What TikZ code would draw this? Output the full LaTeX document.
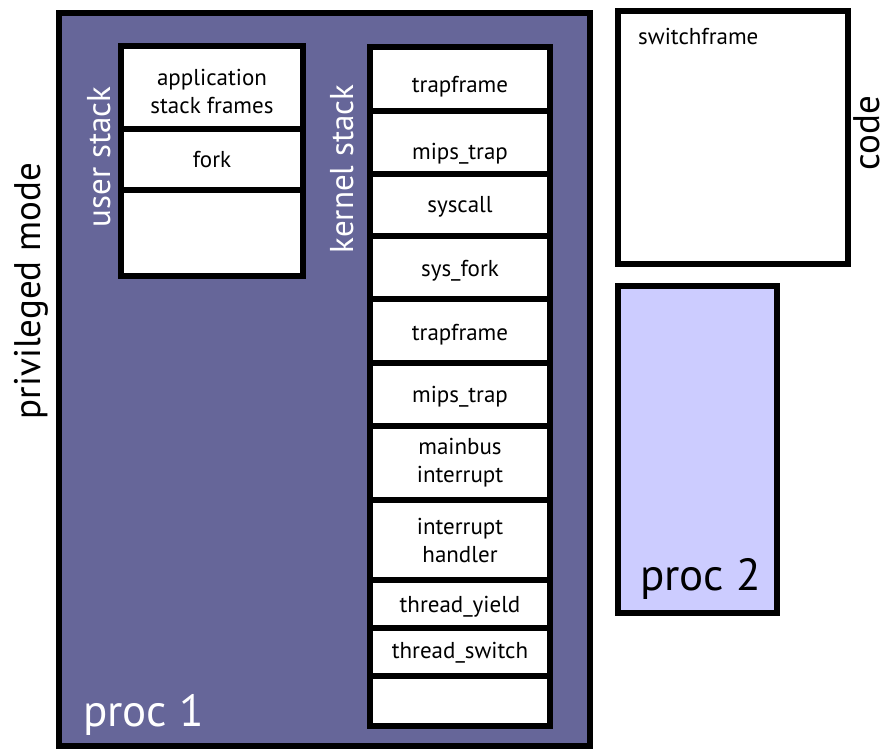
\documentclass[tikz,border=0pt]{standalone}
\usepackage{fontspec}
\setmainfont{PT Sans}
\definecolor{procone}{RGB}{102,102,153}
\definecolor{proctwo}{RGB}{204,204,255}
\tikzstyle{frame} = [draw=black, line width=6pt, rectangle, inner sep=0pt]
\tikzstyle{cell} = [frame, fill=white]
\tikzstyle{celltext} = [font=\fontsize{23}{28}\selectfont, align=center, inner sep=0pt]
\tikzstyle{sidetext} = [font=\fontsize{37}{40}\selectfont, rotate=90, inner sep=0pt, anchor=base]
\tikzstyle{stacktext} = [font=\fontsize{33}{36}\selectfont, rotate=90, text=white, inner sep=0pt, anchor=base]
\tikzstyle{proctext} = [font=\fontsize{45}{48}\selectfont, inner sep=0pt, anchor=base west]

\begin{document}
\begin{tikzpicture}[x=1pt, y=-1pt]
                \useasboundingbox (0,0) rectangle (885,751);
                % processes and code
                \node [frame, fill=procone, minimum width=531pt, minimum height=733pt] (proc1) at (324.5,379.5) {};
                \node [frame, fill=white, minimum width=230pt, minimum height=253pt] (code) at (733,137.5) {};
                \node [frame, fill=proctwo, minimum width=159pt, minimum height=327pt] (proc2) at (697.5,449.5) {};
                % user stack
                \foreach \n/\ya/\yb/\yt/\txt in {1/46/129.5/91.7/{application\\stack frames}, 2/129.5/190/160/fork, 3/190/276/233/{}} {
                    \node [cell, minimum width=182pt, minimum height={(\yb-\ya)*1pt}] (u\n) at (212,{(\ya+\yb)/2}) {};
                    \node [celltext] (ut\n) at (212,\yt) {\txt};
                }
                % kernel stack
                \foreach \n/\ya/\yb/\yt/\txt in {1/47/111/87/trapframe, 2/111/174.5/154/mips\_trap,
                        3/174.5/236/207/syscall, 4/236/299/271/sys\_fork, 5/299/363/335/trapframe,
                        6/363/426/397/mips\_trap, 7/426/500/462.5/{mainbus\\interrupt},
                        8/500/580/540/{interrupt\\handler}, 9/580/628/606.7/thread\_yield,
                        10/628/675.5/652.5/thread\_switch, 11/675.5/726/700.75/{}} {
                    \node [cell, minimum width=180pt, minimum height={(\yb-\ya)*1pt}] (k\n) at (460,{(\ya+\yb)/2}) {};
                    \node [celltext] (kt\n) at (460,\yt) {\txt};
                }
                % labels
                \node [stacktext] (userlbl) at (110,157) {user stack};
                \node [stacktext] (kernellbl) at (353,169) {kernel stack};
                \node [sidetext] (privlbl) at (40,291) {privileged mode};
                \node [sidetext] (codelbl) at (879,133) {code};
                \node [celltext, anchor=base west] (swlbl) at (638,45) {switchframe};
                \node [proctext, text=white] (p1lbl) at (83,726) {proc 1};
                \node [proctext] (p2lbl) at (640,590) {proc 2};
            \end{tikzpicture}
\end{document}
